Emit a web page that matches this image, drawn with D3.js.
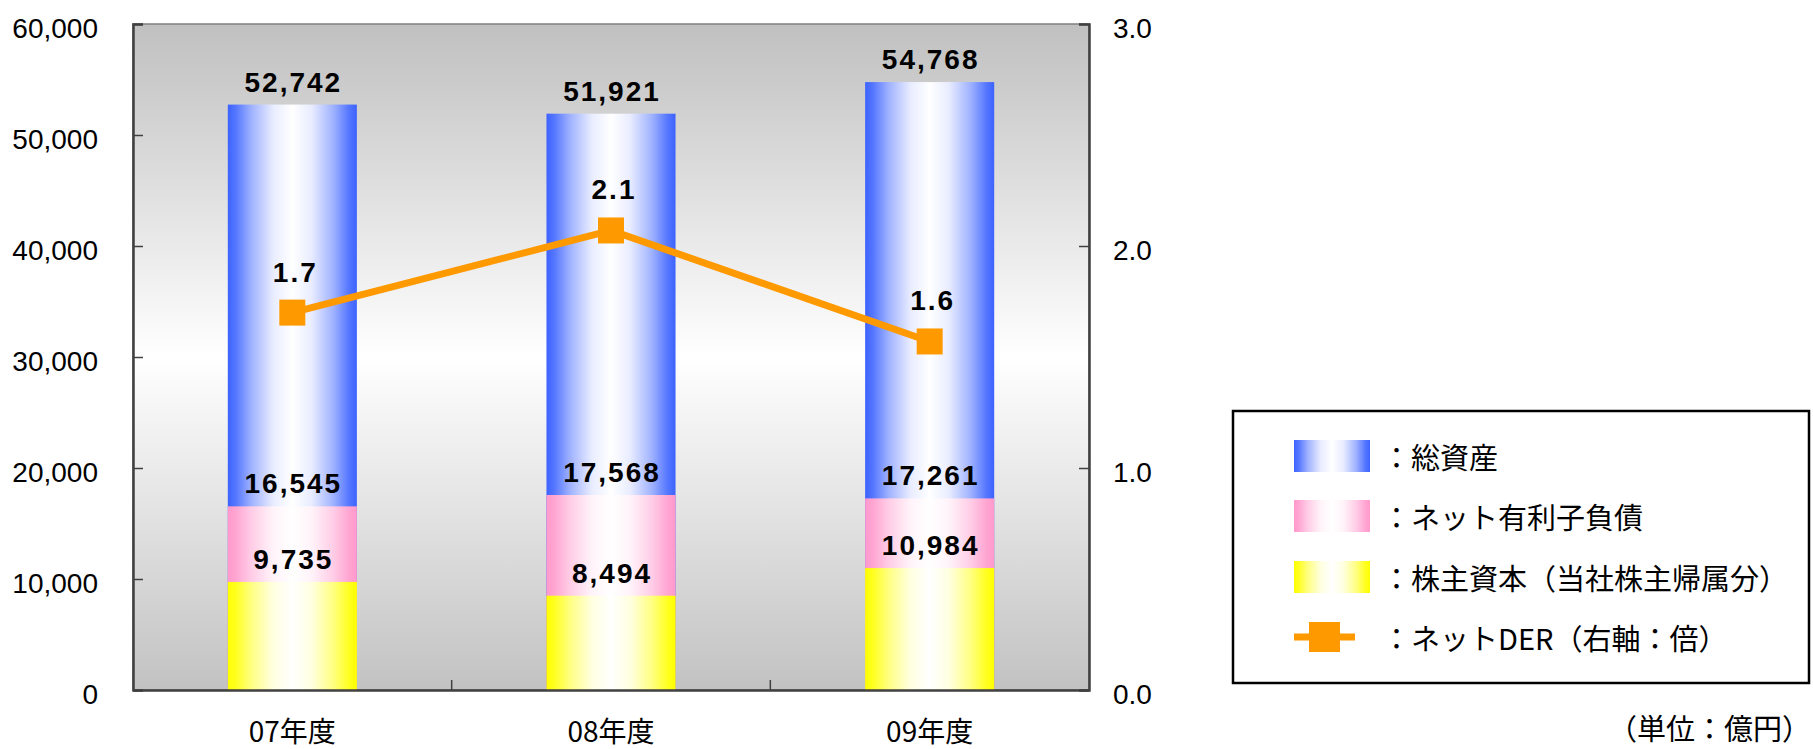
<!DOCTYPE html>
<html>
<head>
<meta charset="utf-8">
<script src="https://cdn.jsdelivr.net/npm/d3@7"></script>
<style>
  body { margin: 0; background: #fff; }
</style>
</head>
<body>
<svg class="chart"></svg>
<script>
var cats = ["07年度", "08年度", "09年度"];
var totalAssets = [52742, 51921, 54768];
var netDebt = [16545, 17568, 17261];
var equity = [9735, 8494, 10984];
var netDER = [1.70, 2.07, 1.57];
var leftTicks = [0, 10000, 20000, 30000, 40000, 50000, 60000];
var rightTicks = [0, 1, 2, 3];
var legendLabels = ["：総資産", "：ネット有利子負債", "：株主資本（当社株主帰属分）", "：ネットDER（右軸：倍）"];
var unitLabel = "（単位：億円）";

var width = 1813;
var height = 749;
// plot area edges (window.top is reserved, so no "top" here)
var plotL = 133, plotR = 1089, plotT = 24, plotB = 690;

var svg = d3.select(".chart")
    .attr("width", width)
    .attr("height", height);

var defs = svg.append("defs");

// plot background: grey -> white -> grey
var bg = defs.append("linearGradient")
    .attr("id", "bg")
    .attr("x1", 0).attr("y1", 0).attr("x2", 0).attr("y2", 1);
bg.append("stop").attr("offset", "0%").attr("stop-color", "#c0c0c0");
bg.append("stop").attr("offset", "50%").attr("stop-color", "#ffffff");
bg.append("stop").attr("offset", "100%").attr("stop-color", "#c2c2c2");

// bar fills: colour at the edges, white in the middle
var fills = [["gBlue", "#3d63ff"], ["gPink", "#ff99cc"], ["gYellow", "#ffff00"]];
var stops = [[0, 0], [0.06, 0.12], [0.18, 0.5], [0.35, 0.88], [0.5, 1], [0.65, 0.88], [0.82, 0.5], [0.94, 0.12], [1, 0]];
fills.forEach(function(f) {
    var g = defs.append("linearGradient")
        .attr("id", f[0])
        .attr("x1", 0).attr("y1", 0).attr("x2", 1).attr("y2", 0);
    var mix = d3.interpolateRgb(f[1], "#ffffff");
    stops.forEach(function(s) {
        g.append("stop").attr("offset", s[0]).attr("stop-color", mix(s[1]));
    });
});

var x = d3.scaleBand()
    .domain(cats)
    .range([plotL, plotR])
    .paddingInner(0.595)
    .paddingOuter(0.2975);

var y = d3.scaleLinear()
    .domain([0, 60000])
    .range([plotB, plotT]);

var y2 = d3.scaleLinear()
    .domain([0, 3])
    .range([plotB, plotT]);

svg.append("rect")
    .attr("x", plotL)
    .attr("y", plotT)
    .attr("width", plotR - plotL)
    .attr("height", plotB - plotT)
    .attr("fill", "url(#bg)")
    .attr("stroke", "#808080")
    .attr("stroke-width", 1.5);

// overlapping bars, biggest first
var series = [[totalAssets, "gBlue"], [netDebt, "gPink"], [equity, "gYellow"]];
series.forEach(function(s) {
    svg.append("g")
        .selectAll("rect")
        .data(s[0])
        .enter()
        .append("rect")
        .attr("x", function(d, i) { return x(cats[i]); })
        .attr("y", function(d) { return y(d); })
        .attr("width", x.bandwidth())
        .attr("height", function(d) { return plotB - y(d); })
        .attr("fill", "url(#" + s[1] + ")");
});

// bar value labels
series.forEach(function(s) {
    svg.append("g")
        .selectAll("text")
        .data(s[0])
        .enter()
        .append("text")
        .attr("x", function(d, i) { return x(cats[i]) + x.bandwidth() / 2 + 1; })
        .attr("y", function(d) { return y(d) - 13; })
        .attr("text-anchor", "middle")
        .style("font-family", "'Liberation Sans', Arial, sans-serif")
        .style("font-weight", "bold")
        .style("font-size", "28px")
        .style("letter-spacing", "2px")
        .text(d3.format(","));
});

// axes
var fontTick = "'Liberation Sans', Arial, sans-serif";
var yAxis = d3.axisLeft(y)
    .tickValues(leftTicks)
    .tickSize(-10)
    .tickPadding(35)
    .tickFormat(d3.format(","));
var gy = svg.append("g")
    .attr("transform", "translate(" + plotL + ",0)")
    .call(yAxis);

var y2Axis = d3.axisRight(y2)
    .tickValues(rightTicks)
    .tickSize(-10)
    .tickPadding(24)
    .tickFormat(d3.format(".1f"));
var gy2 = svg.append("g")
    .attr("transform", "translate(" + plotR + ",0)")
    .call(y2Axis);

var xAxis = d3.axisBottom(x)
    .tickSize(0)
    .tickPadding(32);
var gx = svg.append("g")
    .attr("transform", "translate(0," + plotB + ")")
    .call(xAxis);

[gy, gy2].forEach(function(g) {
    g.selectAll("text")
        .attr("dy", "0.47em")
        .style("font-family", fontTick)
        .style("font-size", "28px")
        .attr("fill", "#000");
});
gx.selectAll("text")
    .style("font-family", "'Noto Sans CJK JP', sans-serif")
    .style("font-size", "28px")
    .attr("fill", "#000");
[gy, gy2, gx].forEach(function(g) {
    g.select(".domain").attr("stroke", "#404040").attr("stroke-width", 2.5);
    g.selectAll(".tick line").attr("stroke", "#404040").attr("stroke-width", 1.5);
});

// category boundary ticks on the x axis
svg.append("g")
    .selectAll("line")
    .data(cats.slice(1))
    .enter()
    .append("line")
    .attr("x1", function(d) { return x(d) - (x.step() - x.bandwidth()) / 2; })
    .attr("x2", function(d) { return x(d) - (x.step() - x.bandwidth()) / 2; })
    .attr("y1", plotB)
    .attr("y2", plotB - 10)
    .attr("stroke", "#404040")
    .attr("stroke-width", 1.5);

// net DER line on the right axis
var line = d3.line()
    .x(function(d, i) { return x(cats[i]) + x.bandwidth() / 2; })
    .y(function(d) { return y2(d); });

svg.append("path")
    .datum(netDER)
    .attr("d", line)
    .attr("fill", "none")
    .attr("stroke", "#ff9900")
    .attr("stroke-width", 7);

svg.append("g")
    .selectAll("rect")
    .data(netDER)
    .enter()
    .append("rect")
    .attr("x", function(d, i) { return x(cats[i]) + x.bandwidth() / 2 - 13; })
    .attr("y", function(d) { return y2(d) - 13; })
    .attr("width", 26)
    .attr("height", 26)
    .attr("fill", "#ff9900");

svg.append("g")
    .selectAll("text")
    .data(netDER)
    .enter()
    .append("text")
    .attr("x", function(d, i) { return x(cats[i]) + x.bandwidth() / 2 + 3; })
    .attr("y", function(d) { return y2(d) - 31; })
    .attr("text-anchor", "middle")
    .style("font-family", "'Liberation Sans', Arial, sans-serif")
    .style("font-weight", "bold")
    .style("font-size", "28px")
    .style("letter-spacing", "2px")
    .text(d3.format(".1f"));

// legend
var lg = svg.append("g");
lg.append("rect")
    .attr("x", 1233)
    .attr("y", 411)
    .attr("width", 576)
    .attr("height", 272)
    .attr("fill", "#fff")
    .attr("stroke", "#000")
    .attr("stroke-width", 2.5);

var rowY = [456, 516, 577, 637];
fills.forEach(function(f, i) {
    lg.append("rect")
        .attr("x", 1294)
        .attr("y", rowY[i] - 16)
        .attr("width", 76)
        .attr("height", 32)
        .attr("fill", "url(#" + f[0] + ")");
});
lg.append("line")
    .attr("x1", 1294).attr("x2", 1355)
    .attr("y1", rowY[3]).attr("y2", rowY[3])
    .attr("stroke", "#ff9900")
    .attr("stroke-width", 7);
lg.append("rect")
    .attr("x", 1309).attr("y", rowY[3] - 15)
    .attr("width", 31).attr("height", 30)
    .attr("fill", "#ff9900");

lg.selectAll("text")
    .data(legendLabels)
    .enter()
    .append("text")
    .attr("x", 1382)
    .attr("y", function(d, i) { return rowY[i] + 13; })
    .style("font-family", "'Noto Sans CJK JP', sans-serif")
    .style("font-size", "29px")
    .text(function(d) { return d; });

svg.append("text")
    .attr("x", 1811)
    .attr("y", 740)
    .attr("text-anchor", "end")
    .style("font-family", "'Noto Sans CJK JP', sans-serif")
    .style("font-size", "29px")
    .text(unitLabel);
</script>
</body>
</html>
